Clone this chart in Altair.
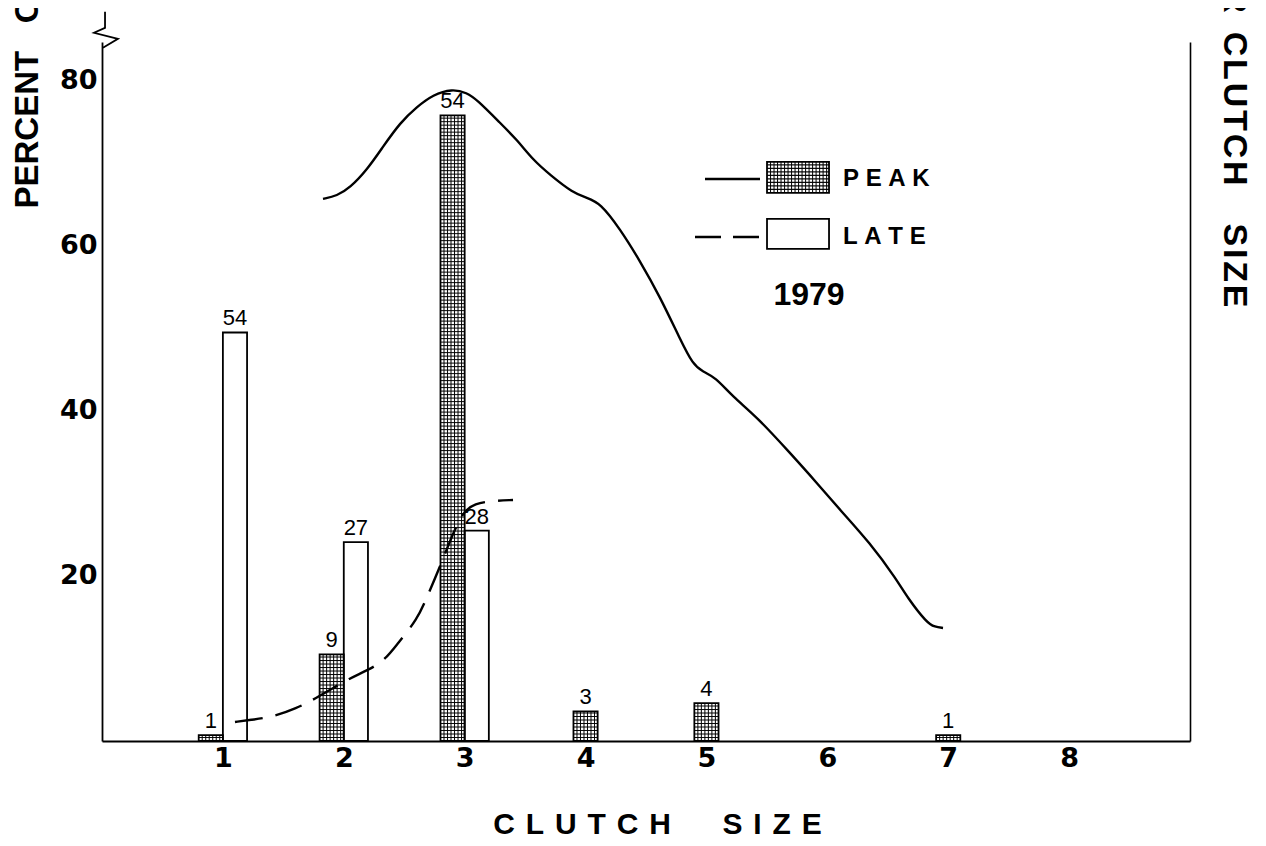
import altair as alt
import pandas as pd

FONT = "Liberation Sans"
TICK_FONT = "DejaVu Sans"
NB = "\u00a0"
HS = "\u200a"

# ---------------- data ----------------
clutch_sizes = [1, 2, 3, 4, 5, 6, 7, 8]
peak_percent = [0.7, 10.5, 75.8, 3.6, 4.6, 0.0, 0.7, 0.0]
late_percent = [49.5, 24.1, 25.5, 0.0, 0.0, 0.0, 0.0, 0.0]
peak_counts = [1, 9, 54, 3, 4, 0, 1, 0]
late_counts = [54, 27, 28, 0, 0, 0, 0, 0]

peak_curve_x = [1.828, 1.944, 2.051, 2.192, 2.324, 2.465, 2.606, 2.738, 2.895, 3.019,
                3.102, 3.292, 3.433, 3.565, 3.706, 3.896, 4.012, 4.120, 4.285, 4.450,
                4.616, 4.781, 4.889, 4.972, 5.071, 5.219, 5.418, 5.691, 5.914,
                6.105, 6.353, 6.576, 6.659, 6.824, 6.890, 6.957]
peak_curve_y = [65.70, 66.06, 67.03, 69.21, 72.00, 74.91, 76.85, 78.30, 79.03, 78.55,
                77.70, 74.91, 72.85, 70.42, 68.61, 66.42, 65.82, 65.21, 62.06, 58.18,
                53.82, 48.73, 45.58, 44.73, 44.12, 41.70, 39.27, 34.91, 31.27,
                28.00, 24.00, 19.52, 17.45, 14.30, 13.82, 13.70]

late_curve_x = [1.100, 1.224, 1.415, 1.613, 1.745, 2.027, 2.109, 2.324, 2.448, 2.606,
                2.688, 2.779, 2.920, 3.003, 3.085, 3.209, 3.400]
late_curve_y = [2.30, 2.55, 2.91, 4.00, 4.97, 7.39, 8.00, 9.45, 11.88, 14.67,
                17.45, 20.48, 25.82, 28.00, 28.73, 29.09, 29.21]

axis_break_x = [0.025, 0.025, -0.066, 0.132, 0.008]
axis_break_y = [88.36, 86.42, 85.82, 85.09, 84.0]

x_ticks = clutch_sizes
y_ticks = [20, 40, 60, 80]

# legend boxes, placed in the chart's own units
legend_labels = ["PEAK", "LATE"]
legend_box_x = [5.501, 6.014]
legend_box_y = [[66.42, 70.18], [59.64, 63.27]]

# ---------------- tables ----------------
BAR_W = 0.2
rows = []
for c, pp, lp, pn, ln in zip(clutch_sizes, peak_percent, late_percent, peak_counts, late_counts):
    both = pn > 0 and ln > 0
    if pn > 0:
        x0 = c - BAR_W if both else c - BAR_W / 2
        rows.append({"size": c, "period": "PEAK", "pct": pp, "n": pn, "x0": x0, "x1": x0 + BAR_W})
    if ln > 0:
        x0 = c if both else c - BAR_W / 2
        rows.append({"size": c, "period": "LATE", "pct": lp, "n": ln, "x0": x0, "x1": x0 + BAR_W})
bars = pd.DataFrame(rows)
bars["xc"] = (bars["x0"] + bars["x1"]) / 2
bars["base"] = 0.0

legend_boxes = pd.DataFrame({
    "period": legend_labels,
    "x0": [legend_box_x[0]] * 2, "x1": [legend_box_x[1]] * 2,
    "base": [b[0] for b in legend_box_y], "pct": [b[1] for b in legend_box_y],
})
boxes = pd.concat([bars[["period", "x0", "x1", "base", "pct"]], legend_boxes], ignore_index=True)
hatched = boxes[boxes["period"] == "PEAK"].reset_index(drop=True)

peak_curve = pd.DataFrame({"x": peak_curve_x, "y": peak_curve_y})
late_curve = pd.DataFrame({"x": late_curve_x, "y": late_curve_y})
axis_break = pd.DataFrame({"x": axis_break_x, "y": axis_break_y, "i": range(len(axis_break_x))})
one = pd.DataFrame({"k": [0]})

# ---------------- scales / axes ----------------
xs = alt.Scale(domain=[0, 9], nice=False, zero=False)
ys = alt.Scale(domain=[0, 84.7], nice=False)


def spaced(word, sep):
    return sep.join(list(word))


bottom_title = spaced("CLUTCH", NB + HS) + (NB + HS) * 4 + NB + spaced("SIZE", NB + HS)
left_title = "PERCENT" + NB * 3 + "OF CLUTCHES"
right_title = spaced("PER", HS) + NB * 2 + spaced("CLUTCH", HS) + NB * 4 + spaced("SIZE", HS)

x_axis = alt.Axis(values=x_ticks, format="d", ticks=False, grid=False,
                  domainColor="black", domainWidth=1.9,
                  labelFont=TICK_FONT, labelFontSize=27, labelFontWeight="bold", labelColor="black",
                  labelPadding=4, labelFlush=False, labelAngle=0,
                  title=bottom_title, titleFont=FONT, titleFontSize=30, titleFontWeight="bold",
                  titleColor="black", titleX=555, titleY=83, titleAlign="center",
                  titleBaseline="middle")
y_axis = alt.Axis(values=y_ticks, ticks=False, grid=False,
                  domainColor="black", domainWidth=1.8,
                  labelFont=TICK_FONT, labelFontSize=27, labelFontWeight="bold", labelColor="black",
                  labelPadding=5,
                  title=left_title, titleFont=FONT, titleFontSize=33, titleFontWeight="bold",
                  titleColor="black", titleAngle=270, titleAlign="left", titleBaseline="middle",
                  titleX=-75, titleY=166)
right_axis = alt.Axis(orient="right", labels=False, ticks=False, grid=False,
                      domainColor="black", domainWidth=1.6,
                      title=right_title, titleFont=FONT, titleFontSize=34, titleFontWeight="bold",
                      titleColor="black", titleAngle=90, titleAlign="right", titleBaseline="middle",
                      titleX=43, titleY=265)

HX = 0.029   # hatch spacing in clutch-size units (~3.5 px)
HY = 0.424   # hatch spacing in percent units (~3.5 px)

bar_fill = alt.Chart(boxes).mark_rect(fill="white").encode(
    x=alt.X("x0:Q", scale=xs, axis=x_axis), x2="x1:Q",
    y=alt.Y("base:Q", scale=ys, axis=y_axis), y2="pct:Q")

hatch_h = alt.Chart(hatched).transform_calculate(
    hy=f"sequence(datum.base + {HY}, datum.pct, {HY})"
).transform_flatten(["hy"]).mark_rule(color="black", strokeWidth=1.05, opacity=0.95).encode(
    x=alt.X("x0:Q", scale=xs, axis=None), x2="x1:Q",
    y=alt.Y("hy:Q", scale=ys, axis=None))

hatch_v = alt.Chart(hatched).transform_calculate(
    vx=f"sequence(datum.x0 + {HX}, datum.x1 - {HX / 2}, {HX})"
).transform_flatten(["vx"]).mark_rule(color="black", strokeWidth=1.05, opacity=0.95).encode(
    x=alt.X("vx:Q", scale=xs, axis=None),
    y=alt.Y("base:Q", scale=ys, axis=None), y2="pct:Q")

outline = alt.Chart(boxes).mark_rect(fill="white", fillOpacity=0, stroke="black", strokeWidth=1.8).encode(
    x=alt.X("x0:Q", scale=xs, axis=None), x2="x1:Q",
    y=alt.Y("base:Q", scale=ys, axis=None), y2="pct:Q")

labels = alt.Chart(bars).mark_text(baseline="bottom", dy=-2, fontSize=22, font=FONT, color="black").encode(
    x=alt.X("xc:Q", scale=xs, axis=None),
    y=alt.Y("pct:Q", scale=ys, axis=None),
    text="n:Q")

peak_line = alt.Chart(peak_curve).mark_line(color="black", strokeWidth=2.4, interpolate="basis").encode(
    x=alt.X("x:Q", scale=xs, axis=None),
    y=alt.Y("y:Q", scale=ys, axis=right_axis))

late_line = alt.Chart(late_curve).mark_line(color="black", strokeWidth=2.4, interpolate="basis",
                                            strokeDash=[28, 13]).encode(
    x=alt.X("x:Q", scale=xs, axis=None),
    y=alt.Y("y:Q", scale=ys, axis=None))

break_line = alt.Chart(axis_break).mark_line(color="black", strokeWidth=1.8).encode(
    x=alt.X("x:Q", scale=xs, axis=None),
    y=alt.Y("y:Q", scale=ys, axis=None),
    order="i:Q")

# ---------------- legend keys and texts (pixel positions in plot area) ----------------
leg_peak_line = alt.Chart(one).mark_rule(color="black", strokeWidth=2.3).encode(
    x=alt.value(603), x2=alt.value(658), y=alt.value(137))
leg_late_line = alt.Chart(one).mark_rule(color="black", strokeWidth=2.3, strokeDash=[26, 12]).encode(
    x=alt.value(593), x2=alt.value(661), y=alt.value(195))
leg_peak_txt = alt.Chart(one).mark_text(text=spaced("PEAK", NB), align="left", baseline="middle",
                                        fontSize=24, fontWeight="bold", font=FONT, color="black").encode(
    x=alt.value(741), y=alt.value(137))
leg_late_txt = alt.Chart(one).mark_text(text=spaced("LATE", NB), align="left", baseline="middle",
                                        fontSize=24, fontWeight="bold", font=FONT, color="black").encode(
    x=alt.value(741), y=alt.value(195))
leg_year = alt.Chart(one).mark_text(text="1979", align="center", baseline="middle",
                                    fontSize=32, fontWeight="bold", font=FONT, color="black").encode(
    x=alt.value(707), y=alt.value(253))

chart = alt.layer(
    bar_fill, hatch_h, hatch_v, outline, labels, peak_line, late_line, break_line,
    leg_peak_line, leg_late_line, leg_peak_txt, leg_late_txt, leg_year
).resolve_scale(y="independent").resolve_axis(x="independent").properties(
    width=1088, height=699,
    autosize=alt.AutoSizeParams(type="none"),
    padding={"left": 94, "top": 34, "right": 68, "bottom": 100},
).configure_view(stroke=None)

chart.save("out.html", embed_options={"renderer": "svg", "actions": False})
